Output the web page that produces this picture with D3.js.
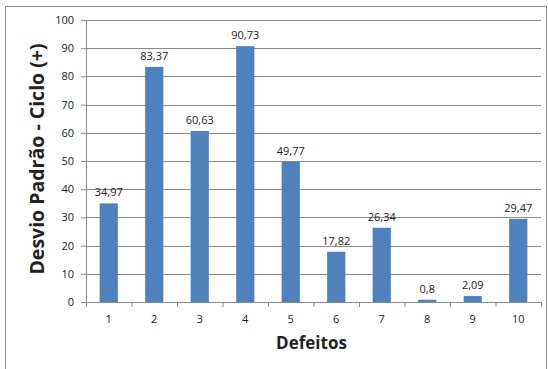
<!DOCTYPE html>
<html>
<head>
<meta charset="utf-8">
<script src="https://cdn.jsdelivr.net/npm/d3@7"></script>
<style>
  body { margin: 0; background: #fff; }
  text { font-family: "Open Sans", "Noto Sans", sans-serif; fill: #222; }
</style>
</head>
<body>
<div id="chart"></div>
<script>
// données
const defeitos = ["1", "2", "3", "4", "5", "6", "7", "8", "9", "10"]
const desvios = [34.97, 83.37, 60.63, 90.73, 49.77, 17.82, 26.34, 0.8, 2.09, 29.47]
const rotulos = ["34,97", "83,37", "60,63", "90,73", "49,77", "17,82", "26,34", "0,8", "2,09", "29,47"]
const yTicks = [0, 10, 20, 30, 40, 50, 60, 70, 80, 90, 100]

const W = 548, H = 369
const margin = {top: 20, right: 7, bottom: 67, left: 86}
const width = W - margin.left - margin.right,
      height = H - margin.top - margin.bottom

const svg = d3.select("#chart").append("svg")
  .attr("width", W).attr("height", H)

// cadre
svg.append("rect")
  .attr("x", 5.5).attr("y", 6.5)
  .attr("width", W - 7).attr("height", H + 10)
  .attr("fill", "none").attr("stroke", "#8c8c8c")

const g = svg.append("g")
  .attr("transform", "translate(" + margin.left + "," + margin.top + ")")

const x = d3.scaleBand().domain(defeitos).range([0, width]).paddingInner(0.6).paddingOuter(0.3)
const xTick = d3.scaleBand().domain(defeitos).range([0, width])
const y = d3.scaleLinear().domain([0, 100]).range([height, 0])

// grille
g.append("g")
  .selectAll("line")
  .data(yTicks.filter(d => d > 0))
  .join("line")
  .attr("x1", 0).attr("x2", width)
  .attr("y1", d => Math.round(y(d)) + 0.5).attr("y2", d => Math.round(y(d)) + 0.5)
  .attr("stroke", "#8a8a8a")

// axe y
const yAxis = g.append("g")
  .call(d3.axisLeft(y).tickValues(yTicks).tickSize(5).tickPadding(7).tickSizeOuter(0))
yAxis.select(".domain").attr("stroke", "#8a8a8a")
yAxis.selectAll(".tick line").attr("stroke", "#8a8a8a")
yAxis.selectAll("text").style("font-size", "11px").attr("fill", "#222")

// barres
g.selectAll("rect.bar")
  .data(desvios)
  .join("rect")
  .attr("class", "bar")
  .attr("x", (d, i) => x(defeitos[i]))
  .attr("y", d => y(d))
  .attr("width", x.bandwidth())
  .attr("height", d => height - y(d))
  .attr("fill", "#4f81bd")

// étiquettes
g.selectAll("text.lbl")
  .data(desvios)
  .join("text")
  .attr("class", "lbl")
  .attr("x", (d, i) => x(defeitos[i]) + x.bandwidth() / 2)
  .attr("y", d => y(d) - 7)
  .attr("text-anchor", "middle")
  .style("font-size", "11px")
  .text((d, i) => rotulos[i])

// axe x
const xAxis = g.append("g")
  .attr("transform", "translate(0," + height + ")")
  .call(d3.axisBottom(xTick).tickSize(0).tickPadding(13))
xAxis.select(".domain").attr("stroke", "#8a8a8a")
xAxis.selectAll("text").style("font-size", "11px").attr("fill", "#222")
xAxis.selectAll("line.sep")
  .data(d3.range(defeitos.length + 1))
  .join("line")
  .attr("class", "sep")
  .attr("x1", i => i * xTick.step() + 0.5).attr("x2", i => i * xTick.step() + 0.5)
  .attr("y1", 0).attr("y2", 5)
  .attr("stroke", "#8a8a8a")

// titres
svg.append("text")
  .attr("x", margin.left + width / 2 - 2)
  .attr("y", 349)
  .attr("text-anchor", "middle")
  .style("font-size", "17px").style("font-weight", "bold")
  .text("Defeitos")

svg.append("text")
  .attr("transform", "translate(44," + (margin.top + height / 2 - 2) + ") rotate(-90)")
  .attr("text-anchor", "middle")
  .style("font-size", "19.5px").style("font-weight", "bold")
  .text("Desvio Padrão - Ciclo (+)")
</script>
</body>
</html>
